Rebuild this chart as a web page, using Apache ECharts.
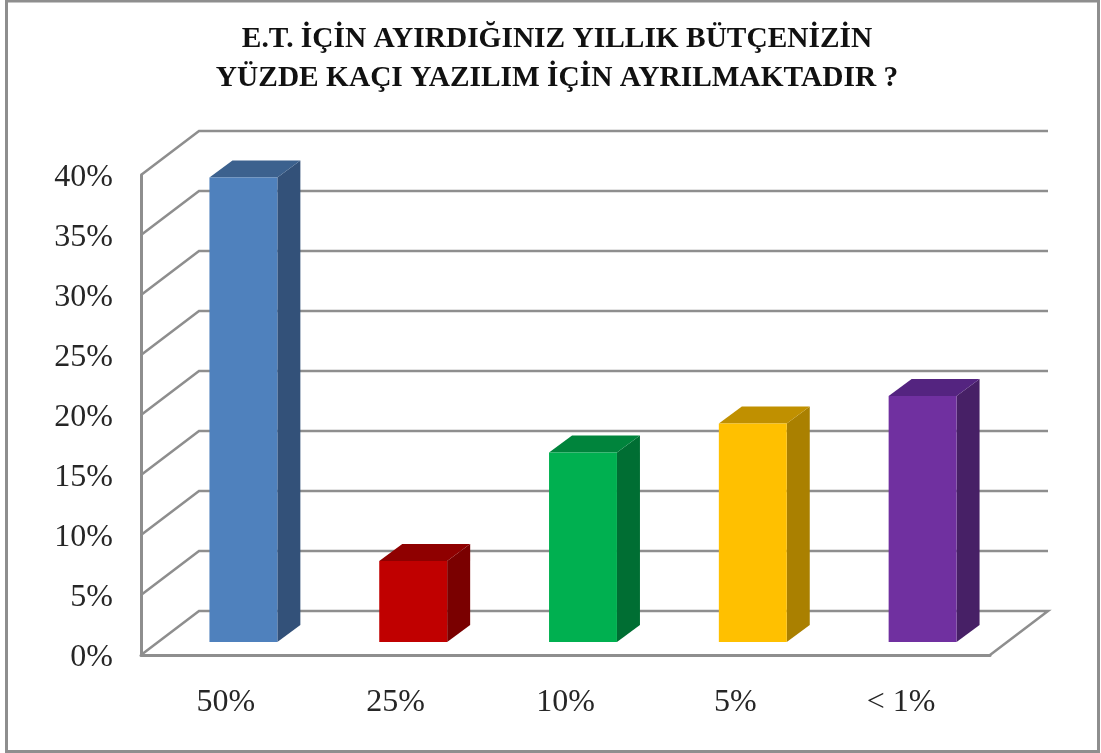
<!DOCTYPE html>
<html><head><meta charset="utf-8">
<style>html,body{margin:0;padding:0;background:#fff}#c{width:1101px;height:753px}</style>
<script src="https://cdn.jsdelivr.net/npm/echarts@6/dist/echarts.min.js"></script>
</head><body><div id="c"></div>
<script>
const titleLines = ['E.T. İÇİN AYIRDIĞINIZ YILLIK BÜTÇENİZİN', 'YÜZDE KAÇI YAZILIM İÇİN AYRILMAKTADIR ?'];
const categories = ['50%', '25%', '10%', '5%', '< 1% '];
const values = [38.7, 6.75, 15.8, 18.2, 20.5];
const yTicks = [0, 5, 10, 15, 20, 25, 30, 35, 40];
const faceColors = ['#4F81BD', '#C00000', '#00B050', '#FFC000', '#7030A0'];
const sideColors = ['#335179', '#7A0000', '#006E33', '#AA8000', '#472066'];
const topColors = ['#3C618E', '#8F0000', '#00843C', '#C09000', '#542480'];

const FONT = '"Liberation Serif","Times New Roman",serif';
const WALL_DX = 58, WALL_DY = -44;    // depth of the floor
const BAR_DX = 17.5, BAR_DY = -13;    // bar's front face inside the floor
const SIDE_DX = 23, SIDE_DY = -17;    // bar's own depth
const LINE = {stroke: '#8E8E8E', lineWidth: 2.5, fill: null};

function renderWall(params, api) {
  const sys = params.coordSys;
  const v = api.value(0);
  const y = api.coord([0, v])[1];
  const x0 = sys.x, x1 = sys.x + sys.width;
  const pts = [[x0, y], [x0 + WALL_DX, y + WALL_DY], [x1 + WALL_DX, y + WALL_DY]];
  if (v === 0) pts.push([x1, y]);
  return {type: 'polyline', shape: {points: pts}, style: LINE, silent: true};
}

function renderBar(params, api) {
  const i = api.value(0);
  const top = api.coord([i, api.value(1)]);
  const base = api.coord([i, 0]);
  const w = api.size([1, 0])[0] * 0.4;
  const xl = top[0] - w / 2 + BAR_DX, xr = xl + w;
  const yt = top[1] + BAR_DY, yb = base[1] + BAR_DY;
  return {type: 'group', children: [
    {type: 'polygon', shape: {points: [[xr, yt], [xr + SIDE_DX, yt + SIDE_DY], [xr + SIDE_DX, yb + SIDE_DY], [xr, yb]]},
     style: {fill: sideColors[i]}},
    {type: 'polygon', shape: {points: [[xl, yt], [xl + SIDE_DX, yt + SIDE_DY], [xr + SIDE_DX, yt + SIDE_DY], [xr, yt]]},
     style: {fill: topColors[i]}},
    {type: 'rect', shape: {x: xl, y: yt, width: w, height: yb - yt}, style: {fill: faceColors[i]}}
  ]};
}

const chart = echarts.init(document.getElementById('c'), null, {renderer: 'canvas'});
chart.setOption({
  animation: false,
  backgroundColor: '#fff',
  title: {
    text: titleLines.join('\n'), left: 552, top: 15, textAlign: 'center',
    textStyle: {fontFamily: FONT, fontWeight: 'bold', fontSize: 29.4, lineHeight: 39, color: '#111'}
  },
  graphic: [{type: 'rect', silent: true, z: -1,
    shape: {x: 6.5, y: 1, width: 1092, height: 750.5},
    style: {fill: '#fff', stroke: '#8E8E8E', lineWidth: 3}}],
  grid: {left: 141, top: 175, width: 849, height: 480},
  xAxis: {
    type: 'category', data: categories,
    axisLine: {show: true, lineStyle: {color: '#8E8E8E', width: 3}},
    axisTick: {show: false},
    axisLabel: {fontFamily: FONT, fontSize: 32, color: '#262626', margin: 32}
  },
  yAxis: {
    type: 'value', min: 0, max: 40, interval: 5,
    axisLine: {show: true, lineStyle: {color: '#8E8E8E', width: 3}},
    axisTick: {show: false},
    splitLine: {show: false},
    axisLabel: {
      margin: 28,
      formatter: v => `{a|${v}%}`,
      rich: {a: {fontFamily: FONT, fontSize: 32, color: '#262626', padding: [6, 0, 0, 0]}}
    }
  },
  series: [
    {type: 'custom', coordinateSystem: 'cartesian2d', encode: {y: 0},
     renderItem: renderWall, data: yTicks.map(t => [t]), z: 1, silent: true},
    {type: 'custom', coordinateSystem: 'cartesian2d', encode: {x: 0, y: 1},
     renderItem: renderBar, data: values.map((v, i) => [i, v]), z: 2, silent: true}
  ]
});
</script></body></html>
